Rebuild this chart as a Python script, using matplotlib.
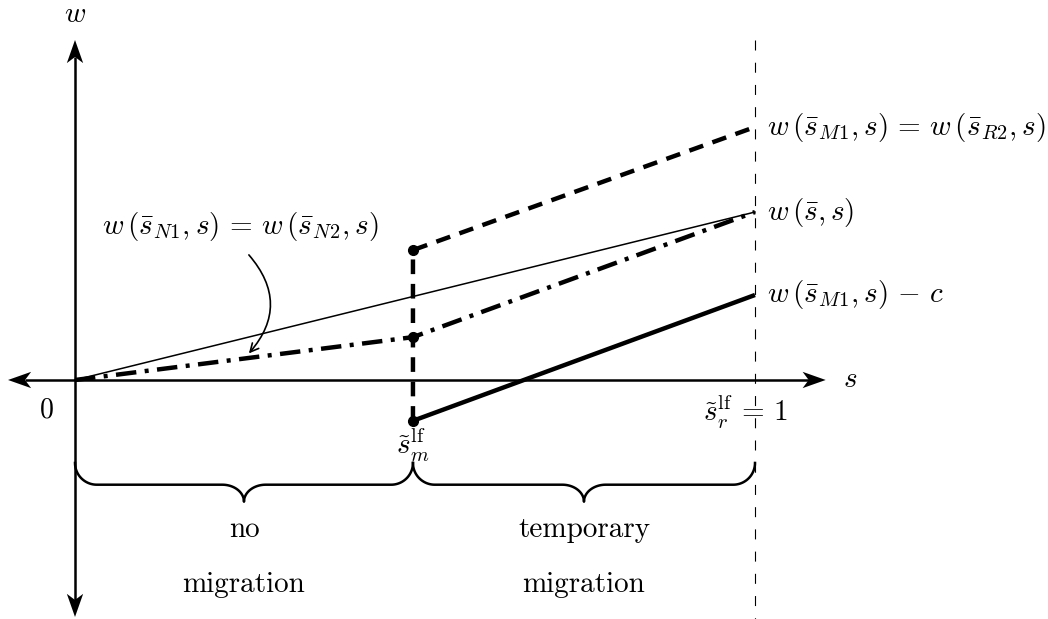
import numpy as np
import matplotlib.pyplot as plt
from matplotlib.patches import FancyArrowPatch

plt.rcParams["font.family"] = "serif"
plt.rcParams["font.serif"] = ["cmr10"]
plt.rcParams["mathtext.fontset"] = "cm"
plt.rcParams["axes.formatter.use_mathtext"] = True

FS = 21

# -----------------------------
# Wage schedules (s on x, w on y)
# -----------------------------
S_M = 0.497          # threshold s_m^lf
S_R = 1.0            # threshold s_r^lf

s_full = [0.0, S_R]
w_base = [0.0, 0.247]                 # w(s_bar, s)

s_nomig = [0.0, S_M, S_R]
w_nomig = [0.0, 0.063, 0.247]         # w(s_N1, s) = w(s_N2, s), then w(s_bar, s)

s_mig = [S_M, S_M, S_R]
w_mig = [-0.060, 0.191, 0.372]        # w(s_M1, s) = w(s_R2, s)

s_cost = [S_M, S_R]
w_cost = [-0.060, 0.125]              # w(s_M1, s) - c

dot_s = [S_M, S_M, S_M]
dot_w = [0.191, 0.063, -0.060]

right_labels = [
    r"$w\,(\bar{s}_{M1}, s)\,=\,w\,(\bar{s}_{R2}, s)$",
    r"$w\,(\bar{s}, s)$",
    r"$w\,(\bar{s}_{M1}, s)\,-\,c$",
]
right_label_w = [w_mig[-1], w_base[-1], w_cost[-1]]

regions = [("no", "migration"), ("temporary", "migration")]
region_bounds = [(0.0, S_M), (S_M, S_R)]

# -----------------------------
# Figure
# -----------------------------
fig = plt.figure(figsize=(10.48, 6.19), dpi=100)
ax = fig.add_axes([0, 0, 1, 1])
ax.set_xlim(-0.1103, 1.4309)
ax.set_ylim(-0.3515, 0.5588)
ax.set_aspect("equal")
ax.axis("off")


def stealth(ax, tip, direction, length=0.034, half_width=0.012, notch=0.009):
    tip = np.asarray(tip, dtype=float)
    d = np.asarray(direction, dtype=float)
    d = d / np.linalg.norm(d)
    n = np.array([-d[1], d[0]])
    back = tip - length * d
    pts = np.array([tip, back + half_width * n, tip - (length - notch) * d,
                    back - half_width * n])
    ax.fill(pts[:, 0], pts[:, 1], color="black", lw=0, zorder=6)
    return tip - (length - notch) * d


# axes with arrowheads on both ends
x_lo, x_hi = -0.0985, 1.104
y_lo, y_hi = -0.3485, 0.500
a = stealth(ax, (x_lo, 0), (-1, 0))
b = stealth(ax, (x_hi, 0), (1, 0))
ax.plot([a[0], b[0]], [0, 0], color="black", lw=1.8, zorder=5,
        solid_capstyle="butt")
a = stealth(ax, (0, y_lo), (0, -1))
b = stealth(ax, (0, y_hi), (0, 1))
ax.plot([0, 0], [a[1], b[1]], color="black", lw=1.8, zorder=5,
        solid_capstyle="butt")

# thin dashed guide at s = 1
ax.plot([S_R, S_R], [0.500, -0.3515], color="black", lw=0.8,
        dashes=(9, 11), zorder=2)

# schedules
ax.plot(s_full, w_base, color="black", lw=1.1, zorder=3)
ax.plot(s_nomig, w_nomig, color="black", lw=3.2,
        dashes=(4.6, 1.9, 0.9, 1.9), zorder=4)
ax.plot(s_mig, w_mig, color="black", lw=3.2, dashes=(3.3, 2.2), zorder=4,
        dash_capstyle="butt")
ax.plot(s_cost, w_cost, color="black", lw=3.2, zorder=4,
        solid_capstyle="butt")
ax.plot(dot_s, dot_w, "o", color="black", ms=7, zorder=7)

# labels
ax.text(0.0, 0.537, r"$w$", fontsize=FS, ha="center", va="center")
ax.text(1.14, 0.0, r"$s$", fontsize=FS, ha="center", va="center")
ax.text(-0.041, -0.044, "0", fontsize=FS - 1, ha="center", va="center")
ax.text(S_M, -0.096, r"$\tilde{s}_m^{\mathrm{lf}}$", fontsize=FS,
        ha="center", va="center")
ax.text(0.985, -0.047, r"$\tilde{s}_r^{\mathrm{lf}}\,=\,1$", fontsize=FS,
        ha="center", va="center")
for txt, wv in zip(right_labels, right_label_w):
    ax.text(1.017, wv, txt, fontsize=FS, ha="left", va="center")

ax.text(0.243, 0.226,
        r"$w\,(\bar{s}_{N1}, s)\,=\,w\,(\bar{s}_{N2}, s)$",
        fontsize=FS, ha="center", va="center")
ax.add_patch(FancyArrowPatch((0.253, 0.187), (0.253, 0.036),
                             connectionstyle="arc3,rad=-0.45",
                             arrowstyle="->,head_length=6,head_width=3",
                             color="black", lw=1.2, zorder=6))


# braces under the axis
def brace(ax, x0, x1, top=-0.122, flat=-0.154, tip=-0.179, r=0.032):
    xm = 0.5 * (x0 + x1)
    h1, h2 = top - flat, flat - tip
    t = np.linspace(0, np.pi / 2, 30)
    tr = t[::-1]
    xs = np.concatenate([
        x0 + r - r * np.cos(t),
        xm - r + r * np.sin(t),
        xm + r - r * np.sin(tr),
        x1 - r + r * np.cos(tr),
    ])
    ys = np.concatenate([
        top - h1 * np.sin(t),
        flat - h2 * (1 - np.cos(t)),
        flat - h2 * (1 - np.cos(tr)),
        top - h1 * np.sin(tr),
    ])
    ax.plot(xs, ys, color="black", lw=1.8, zorder=5)
    return xm


for (lo, hi), (l1, l2) in zip(region_bounds, regions):
    xm = brace(ax, lo, hi)
    ax.text(xm, -0.221, l1, fontsize=FS, ha="center", va="center")
    ax.text(xm, -0.301, l2, fontsize=FS, ha="center", va="center")

fig.savefig("out.png", dpi=100)
